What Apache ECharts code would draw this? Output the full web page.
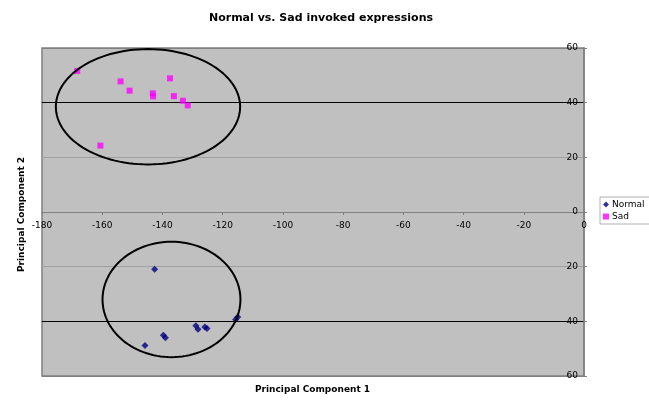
<!DOCTYPE html>
<html>
<head>
<meta charset="utf-8">
<script src="https://cdn.jsdelivr.net/npm/echarts@6/dist/echarts.min.js"></script>
<style>
  html, body { margin: 0; padding: 0; background: #fff; }
  #chart { width: 649px; height: 400px; }
</style>
</head>
<body>
<div id="chart"></div>
<script>
// Principal component scores for each recorded expression
const normalPC1 = [-142.6, -145.8, -139.7, -139.0, -128.9, -128.2, -125.9, -125.2, -115.7, -115.0];
const normalPC2 = [-20.9, -48.8, -45.1, -46.0, -41.6, -42.9, -42.1, -42.6, -39.3, -38.4];
const sadPC1 = [-168.3, -153.9, -150.9, -143.2, -143.1, -137.5, -136.2, -133.2, -131.6, -160.6];
const sadPC2 = [51.6, 47.8, 44.4, 43.4, 42.3, 48.9, 42.4, 40.7, 39.0, 24.3];

// Cluster outlines: [centre PC1, centre PC2, radius PC1, radius PC2]
const sadCluster = [-144.8, 38.5, 30.6, 21.1];
const normalCluster = [-137.0, -32.0, 22.9, 21.1];

const xTicks = { min: -180, max: 0, step: 20 };
const yTicks = { min: -60, max: 60, step: 20 };

const pairs = (xs, ys) => xs.map((x, i) => [x, ys[i]]);

const FONT = 'DejaVu Sans';

// Plot box in pixels; the horizontal axis crosses at PC2 = 0 (the middle)
const PLOT = { left: 42, right: 65, top: 48, bottom: 24, height: 328 };

function ellipseItem(params, api) {
  const cx = api.value(0), cy = api.value(1), rx = api.value(2), ry = api.value(3);
  const pts = [];
  for (let k = 0; k < 120; k++) {
    const t = (k / 120) * Math.PI * 2;
    pts.push(api.coord([cx + rx * Math.cos(t), cy + ry * Math.sin(t)]));
  }
  return {
    type: 'polygon',
    shape: { points: pts, smooth: 0 },
    style: { fill: 'none', stroke: '#000', lineWidth: 2 }
  };
}

const chart = echarts.init(document.getElementById('chart'), null, { renderer: 'canvas' });

chart.setOption({
  animation: false,
  backgroundColor: '#ffffff',
  title: {
    text: 'Normal vs. Sad invoked expressions',
    left: 316, top: 8, textAlign: 'center',
    textStyle: { fontFamily: FONT, fontWeight: 'bold', fontSize: 11, color: '#000' }
  },
  legend: {
    left: 600, top: 197, orient: 'vertical',
    data: ['Normal', 'Sad'],
    itemWidth: 6, itemHeight: 6, itemGap: 3,
    padding: [3, 5, 3, 3],
    borderColor: '#b0b0b0', borderWidth: 1,
    textStyle: { fontFamily: FONT, fontSize: 9, color: '#000', padding: [0, 0, 0, -2] }
  },
  graphic: [
    {
      type: 'text', x: 255, y: 385,
      style: { text: 'Principal Component 1', font: 'bold 9px "DejaVu Sans"', fill: '#000' }
    },
    {
      type: 'text', x: 17, y: 272, rotation: Math.PI / 2,
      style: { text: 'Principal Component 2', font: 'bold 9px "DejaVu Sans"', fill: '#000' }
    }
  ],
  grid: {
    left: PLOT.left, right: PLOT.right, top: PLOT.top, bottom: PLOT.bottom,
    outerBoundsMode: 'none', containLabel: false,
    show: true, backgroundColor: '#c0c0c0', borderColor: '#808080', borderWidth: 1.5
  },
  xAxis: {
    type: 'value', position: 'bottom',
    offset: -PLOT.height / 2,
    min: xTicks.min, max: xTicks.max, interval: xTicks.step,
    axisLine: { onZero: false, lineStyle: { color: '#808080', width: 1 } },
    axisTick: { show: true, length: 3, lineStyle: { color: '#808080' } },
    axisLabel: { fontFamily: FONT, fontSize: 9, color: '#000', margin: 9 },
    splitLine: { show: false }
  },
  yAxis: {
    type: 'value', position: 'right',
    min: yTicks.min, max: yTicks.max, interval: yTicks.step,
    axisLine: { onZero: false, lineStyle: { color: '#808080', width: 1.5 } },
    axisTick: { show: true, length: 3, lineStyle: { color: '#808080' } },
    axisLabel: {
      inside: true,
      fontFamily: FONT, fontSize: 9, color: '#000', margin: 6,
      formatter: v => String(Math.abs(v))
    },
    splitLine: {
      show: true,
      lineStyle: { color: ['#808080', '#000000', '#a0a0a0', '#a0a0a0', '#a0a0a0', '#000000', '#808080'], width: 1 }
    }
  },
  series: [
    {
      name: 'Normal', type: 'scatter',
      symbol: 'diamond', symbolSize: 7,
      itemStyle: { color: '#000080' },
      data: pairs(normalPC1, normalPC2), z: 3
    },
    {
      name: 'Sad', type: 'scatter',
      symbol: 'rect', symbolSize: 6,
      itemStyle: { color: '#ff00ff' },
      data: pairs(sadPC1, sadPC2), z: 3
    },
    {
      name: 'clusters', type: 'custom', silent: true, z: 4,
      renderItem: ellipseItem,
      data: [sadCluster, normalCluster]
    }
  ]
});
</script>
</body>
</html>
